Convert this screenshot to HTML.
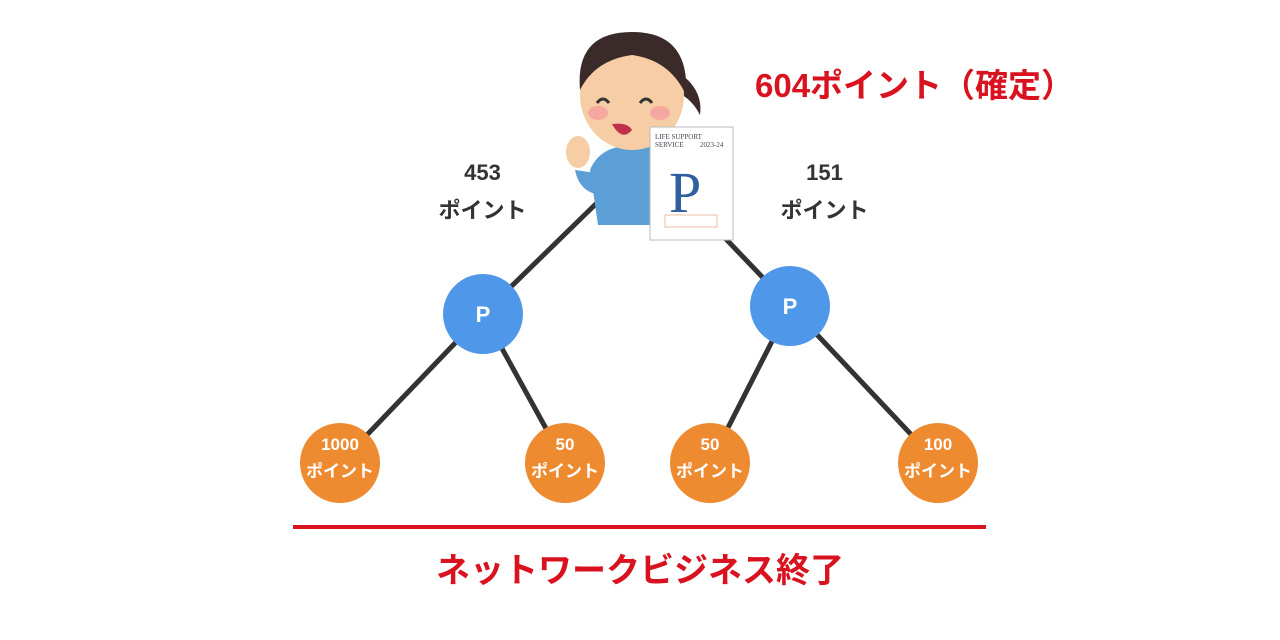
<!DOCTYPE html>
<html><head><meta charset="utf-8"><style>
body{margin:0;width:1280px;height:640px;background:#fff;overflow:hidden;position:relative;font-family:"Liberation Sans","Noto Sans CJK JP",sans-serif;}
.t{position:absolute;font-weight:bold;}
</style></head><body>
<svg width="1280" height="640" style="position:absolute;left:0;top:0">
<g stroke="#333" stroke-width="5" stroke-linecap="round">
<line x1="605" y1="195" x2="483" y2="314"/>
<line x1="725" y1="238" x2="790" y2="306"/>
<line x1="483" y1="314" x2="340" y2="463"/>
<line x1="483" y1="314" x2="565" y2="463"/>
<line x1="790" y1="306" x2="710" y2="463"/>
<line x1="790" y1="306" x2="938" y2="463"/>
</g>
<circle cx="483" cy="314" r="40" fill="#4f97e8"/>
<circle cx="790" cy="306" r="40" fill="#4f97e8"/>
<g fill="#ee8a30">
<circle cx="340" cy="463" r="40"/><circle cx="565" cy="463" r="40"/>
<circle cx="710" cy="463" r="40"/><circle cx="938" cy="463" r="40"/>
</g>
<g font-family="Liberation Sans,Noto Sans CJK JP,sans-serif" font-weight="bold" fill="#fff" text-anchor="middle">
<text x="483" y="322" font-size="22">P</text><text x="790" y="314" font-size="22">P</text>
<text x="340" y="450" font-size="17">1000</text><text x="340" y="477" font-size="17">ポイント</text>
<text x="565" y="450" font-size="17">50</text><text x="565" y="477" font-size="17">ポイント</text>
<text x="710" y="450" font-size="17">50</text><text x="710" y="477" font-size="17">ポイント</text>
<text x="938" y="450" font-size="17">100</text><text x="938" y="477" font-size="17">ポイント</text>
</g>
<!-- woman -->
<path d="M655 60 Q705 80 700 115 Q690 95 670 90 Z" fill="#3a2a2a"/>
<ellipse cx="635" cy="165" rx="42" ry="10" fill="#5b9fd6"/>
<path d="M590 170 Q600 145 635 145 Q670 145 680 175 L680 225 L598 225 Z" fill="#5b9fd6"/>
<path d="M575 170 Q580 195 605 195 L610 175 Z" fill="#5b9fd6"/>
<ellipse cx="578" cy="152" rx="12" ry="16" fill="#f7cda5"/>
<ellipse cx="632" cy="95" rx="52" ry="55" fill="#f7cda5"/>
<path d="M580 90 Q575 32 632 32 Q690 32 686 95 Q670 60 632 55 Q595 60 580 90 Z" fill="#3a2a2a"/>
<ellipse cx="598" cy="113" rx="10" ry="7" fill="#f5a8a0"/>
<ellipse cx="660" cy="113" rx="10" ry="7" fill="#f5a8a0"/>
<path d="M597 103 Q603 95 609 103 M640 103 Q646 95 652 103" stroke="#333" stroke-width="3" fill="none"/>
<path d="M612 124 Q628 122 632 130 Q622 142 612 124 Z" fill="#c0304a"/>
<!-- booklet -->
<rect x="650" y="127" width="83" height="113" fill="#fff" stroke="#bbb"/>
<text x="655" y="139" font-size="7" fill="#445" font-family="Liberation Serif,serif">LIFE SUPPORT</text>
<text x="655" y="147" font-size="7" fill="#445" font-family="Liberation Serif,serif">SERVICE</text>
<text x="700" y="147" font-size="7" fill="#445" font-family="Liberation Serif,serif">2023-24</text>
<text x="669" y="212" font-size="58" fill="#2f5f9f" font-family="Liberation Serif,serif">P</text>
<rect x="665" y="215" width="52" height="12" fill="none" stroke="#e8a080" stroke-width="0.7"/>
</svg>
<div class="t" style="left:755px;top:59px;font-size:33px;color:#d9121f;">604ポイント（確定）</div>
<div class="t" style="left:420px;top:154px;width:125px;text-align:center;font-size:22px;line-height:38px;color:#333;">453<br>ポイント</div>
<div class="t" style="left:762px;top:154px;width:125px;text-align:center;font-size:22px;line-height:38px;color:#333;">151<br>ポイント</div>
<div style="position:absolute;left:293px;top:525px;width:693px;height:4px;background:#d9121f"></div>
<div class="t" style="left:0;width:1280px;text-align:center;top:543px;font-size:34px;color:#d9121f;">ネットワークビジネス終了</div>
</body></html>
